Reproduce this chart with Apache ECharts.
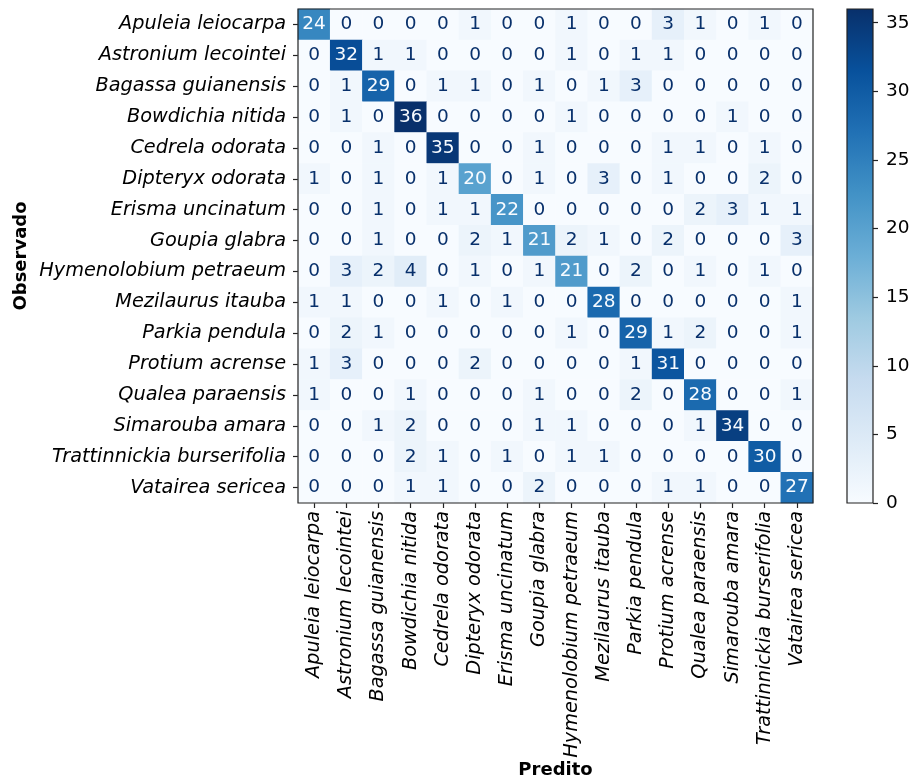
<!DOCTYPE html>
<html>
<head>
<meta charset="utf-8">
<script src="https://cdn.jsdelivr.net/npm/echarts@6/dist/echarts.min.js"></script>
<style>
html,body{margin:0;padding:0;background:#fff;}
#chart{width:914px;height:780px;}
</style>
</head>
<body>
<div id="chart"></div>
<script>
const species = [
  'Apuleia leiocarpa','Astronium lecointei','Bagassa guianensis','Bowdichia nitida',
  'Cedrela odorata','Dipteryx odorata','Erisma uncinatum','Goupia glabra',
  'Hymenolobium petraeum','Mezilaurus itauba','Parkia pendula','Protium acrense',
  'Qualea paraensis','Simarouba amara','Trattinnickia burserifolia','Vatairea sericea'
];
// rows = observed, columns = predicted
const counts = [
  [24,0,0,0,0,1,0,0,1,0,0,3,1,0,1,0],
  [0,32,1,1,0,0,0,0,1,0,1,1,0,0,0,0],
  [0,1,29,0,1,1,0,1,0,1,3,0,0,0,0,0],
  [0,1,0,36,0,0,0,0,1,0,0,0,0,1,0,0],
  [0,0,1,0,35,0,0,1,0,0,0,1,1,0,1,0],
  [1,0,1,0,1,20,0,1,0,3,0,1,0,0,2,0],
  [0,0,1,0,1,1,22,0,0,0,0,0,2,3,1,1],
  [0,0,1,0,0,2,1,21,2,1,0,2,0,0,0,3],
  [0,3,2,4,0,1,0,1,21,0,2,0,1,0,1,0],
  [1,1,0,0,1,0,1,0,0,28,0,0,0,0,0,1],
  [0,2,1,0,0,0,0,0,1,0,29,1,2,0,0,1],
  [1,3,0,0,0,2,0,0,0,0,1,31,0,0,0,0],
  [1,0,0,1,0,0,0,1,0,0,2,0,28,0,0,1],
  [0,0,1,2,0,0,0,1,1,0,0,0,1,34,0,0],
  [0,0,0,2,1,0,1,0,1,1,0,0,0,0,30,0],
  [0,0,0,1,1,0,0,2,0,0,0,1,1,0,0,27]
];
const colorbarRange = [0, 36];
const colorbarTicks = [0,5,10,15,20,25,30,35];
const xTitle = 'Predito';
const yTitle = 'Observado';

const blues = ['#f7fbff','#deebf7','#c6dbef','#9ecae1','#6baed6','#4292c6','#2171b5','#08519c','#08306b'];
const FONT = 'DejaVu Sans';
const FS = 18.5;
const FS_TICK = 19.3;

let maxV = 0, minV = Infinity;
counts.forEach(r => r.forEach(v => { maxV = Math.max(maxV, v); minV = Math.min(minV, v); }));
const thresh = (maxV + minV) / 2;

const heatData = [];
counts.forEach((row, i) => row.forEach((v, j) => {
  heatData.push({
    value: [j, i, v],
    label: { color: v > thresh ? blues[0] : blues[8] }
  });
}));

const chart = echarts.init(document.getElementById('chart'), null, {renderer: 'canvas'});
const axisLineStyle = { color: '#222', width: 1.2 };

chart.setOption({
  backgroundColor: '#fff',
  animation: false,
  textStyle: { fontFamily: FONT },
  grid: [
    { left: 298, top: 9, width: 515, height: 494, show: true, z: 5,
      outerBoundsMode: 'none', containLabel: false,
      borderColor: '#222', borderWidth: 1.2, backgroundColor: 'transparent' },
    { left: 847, top: 9, width: 26, height: 494, show: true, z: 5,
      outerBoundsMode: 'none', containLabel: false,
      borderColor: '#222', borderWidth: 1.2, backgroundColor: 'transparent' }
  ],
  visualMap: {
    show: false, seriesIndex: 0, dimension: 2,
    min: colorbarRange[0], max: colorbarRange[1],
    inRange: { color: blues }
  },
  xAxis: [
    {
      gridIndex: 0, type: 'category', data: species,
      name: xTitle, nameLocation: 'middle', nameGap: 258, nameMoveOverlap: false,
      nameTextStyle: { fontFamily: FONT, fontWeight: 'bold', fontSize: 18, color: '#000' },
      axisLine: { show: false },
      axisTick: { show: true, alignWithLabel: true, length: 5, lineStyle: axisLineStyle },
      axisLabel: { rotate: 90, interval: 0, margin: 8, fontStyle: 'italic',
        fontFamily: FONT, fontSize: FS_TICK, color: '#000' },
      splitLine: { show: false }
    },
    { gridIndex: 1, type: 'category', data: [''], show: false }
  ],
  yAxis: [
    {
      gridIndex: 0, type: 'category', data: species, inverse: true,
      name: yTitle, nameLocation: 'middle', nameGap: 268, nameMoveOverlap: false,
      nameTextStyle: { fontFamily: FONT, fontWeight: 'bold', fontSize: 18, color: '#000' },
      axisLine: { show: false },
      axisTick: { show: true, alignWithLabel: true, length: 5, lineStyle: axisLineStyle },
      axisLabel: { interval: 0, margin: 12, fontStyle: 'italic',
        fontFamily: FONT, fontSize: FS_TICK, color: '#000' },
      splitLine: { show: false }
    },
    {
      gridIndex: 1, type: 'value', position: 'right',
      min: colorbarRange[0], max: colorbarRange[1], interval: 5,
      axisLine: { show: false },
      axisTick: { show: true, length: 5, lineStyle: axisLineStyle, customValues: colorbarTicks },
      axisLabel: { margin: 13, fontFamily: FONT, fontSize: FS, color: '#000', customValues: colorbarTicks },
      splitLine: { show: false }
    }
  ],
  series: [
    {
      type: 'heatmap', xAxisIndex: 0, yAxisIndex: 0,
      data: heatData,
      itemStyle: { borderWidth: 0 },
      label: { show: true, fontFamily: FONT, fontSize: FS,
        formatter: p => String(p.value[2]) },
      emphasis: { disabled: true }
    },
    {
      type: 'custom', xAxisIndex: 1, yAxisIndex: 1,
      data: [[0, colorbarRange[0], colorbarRange[1]]],
      renderItem: function (params, api) {
        const cs = params.coordSys;
        const top = api.coord([0, api.value(2)]);
        const bot = api.coord([0, api.value(1)]);
        const stops = blues.map((c, k) => ({ offset: k / (blues.length - 1), color: c }));
        return {
          type: 'rect',
          shape: { x: cs.x, y: top[1], width: cs.width, height: bot[1] - top[1] },
          style: { fill: new echarts.graphic.LinearGradient(0, 1, 0, 0, stops) }
        };
      }
    }
  ]
});
</script>
</body>
</html>
